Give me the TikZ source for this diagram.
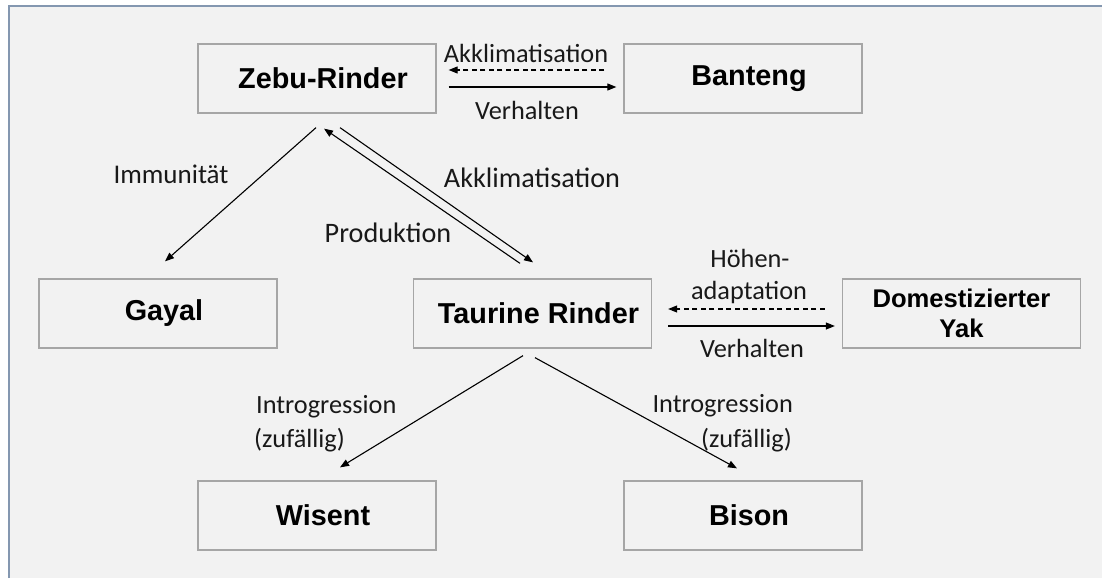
\documentclass[tikz,border=0pt]{standalone}
\usepackage{fontspec}
\setmainfont{Carlito}
\newfontfamily\arialfont{Liberation Sans}
\usetikzlibrary{arrows.meta}
\definecolor{bggray}{HTML}{F2F2F2}
\definecolor{boxgray}{HTML}{A6A6A6}
\definecolor{framecol}{HTML}{8497B0}
\newcommand{\lblfont}{\fontsize{26.3}{34}\selectfont}
\newcommand{\biglblfont}{\fontsize{28.2}{34}\selectfont}
\newcommand{\boxfont}{\arialfont\bfseries\fontsize{28.8}{31}\selectfont}
\newcommand{\yakfont}{\arialfont\bfseries\fontsize{25.6}{30}\selectfont}
\tikzset{
  animalbox/.style={draw=boxgray, line width=1.3pt, fill=bggray, minimum width=238pt,
    minimum height=69pt, inner sep=0pt, font=\boxfont, align=center},
  lbl/.style={font=\lblfont, inner sep=0pt, text=black!90},
  biglbl/.style={lbl, font=\biglblfont},
  arr/.style={-{Triangle[length=9pt,width=7pt]}, line width=1.1pt},
  dasharr/.style={arr, dash pattern=on 5pt off 3.5pt}
}
\begin{document}
\begin{tikzpicture}[x=1pt,y=-1pt]
\useasboundingbox (0,0) rectangle (1102,578);
\fill[white] (0,0) rectangle (1102,578);
\fill[bggray] (9,6) rectangle (1102,578);
\draw[framecol, line width=1.5pt] (9,578) -- (9,6) -- (1102,6);

% boxes
\node[animalbox] (zebu) at (317,78.5) {\hspace*{12pt}Zebu-Rinder};
\node[animalbox] (banteng) at (743,78.5) {\hspace*{12pt}Banteng};
\node[animalbox] (gayal) at (158,313.5) {\hspace*{12pt}Gayal};
\node[animalbox] (taurine) at (532.5,313.5) {\hspace*{12pt}Taurine Rinder};
\node[animalbox, font=\yakfont] (yak) at (961.5,313.5) {Domestizierter\\Yak};
\node[animalbox] (wisent) at (317,515.5) {\hspace*{12pt}Wisent};
\node[animalbox] (bison) at (743,515.5) {\hspace*{12pt}Bison};

% Zebu <-> Banteng
\draw[dasharr] ([xshift=-19pt,yshift=8.5pt]banteng.west) -- ([xshift=12pt,yshift=8.5pt]zebu.east);
\draw[arr] ([xshift=12pt,yshift=-8.5pt]zebu.east) -- ([xshift=-7pt,yshift=-8.5pt]banteng.west);
\node[lbl, anchor=base] (l1) at (526,63) {Akklimatisation};
\node[lbl, anchor=base] (l2) at (527,119) {Verhalten};

% Taurine <-> Yak
\draw[dasharr] ([xshift=-17pt,yshift=4.5pt]yak.west) -- ([xshift=16pt,yshift=4.5pt]taurine.east);
\draw[arr] ([xshift=16pt,yshift=-12.5pt]taurine.east) -- ([xshift=-7pt,yshift=-12.5pt]yak.west);
\node[lbl, anchor=base] (l3) at (750,267) {Höhen-};
\node[lbl, anchor=base] (l4) at (749,299) {adaptation};
\node[lbl, anchor=base] (l5) at (752,357) {Verhalten};

% Zebu -> Gayal
\draw[arr] ([xshift=-1pt,yshift=-14pt]zebu.south) -- ([xshift=7pt,yshift=17pt]gayal.north);
\node[lbl, font=\fontsize{27}{34}\selectfont, anchor=base] (l6) at (171,183) {Immunität};

% Zebu <-> Taurine
\draw[arr] ([xshift=-12.5pt,yshift=15pt]taurine.north) -- ([xshift=7pt,yshift=-15pt]zebu.south);
\draw[arr] ([xshift=23pt,yshift=-14pt]zebu.south) -- ([xshift=0.5pt,yshift=16pt]taurine.north);
\node[biglbl, anchor=base] (l7) at (532,187) {Akklimatisation};
\node[biglbl, anchor=base] (l8) at (388,242) {Produktion};

% Taurine -> Wisent / Bison
\draw[arr] ([xshift=-9.5pt,yshift=-7pt]taurine.south) -- ([xshift=23pt,yshift=13pt]wisent.north);
\draw[arr] ([xshift=2.5pt,yshift=-9pt]taurine.south) -- ([xshift=-6pt,yshift=12pt]bison.north);
\node[lbl, anchor=base west] (l9) at (256,413) {Introgression};
\node[lbl, anchor=base west] (l10) at (254,447) {(zufällig)};
\node[lbl, anchor=base east] (l11) at (793,412) {Introgression};
\node[lbl, anchor=base east] (l12) at (792,447) {(zufällig)};
\end{tikzpicture}
\end{document}
